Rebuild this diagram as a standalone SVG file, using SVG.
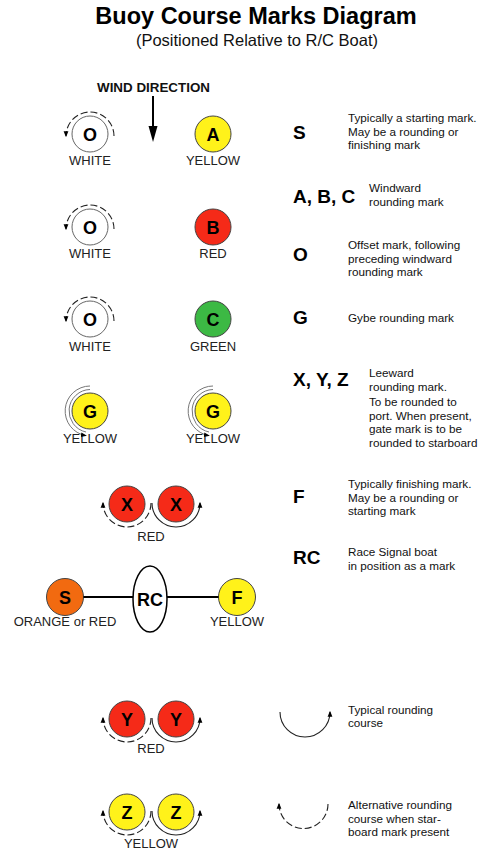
<svg xmlns="http://www.w3.org/2000/svg" width="480" height="851" viewBox="0 0 480 851">
<style>
text{font-family:"Liberation Sans",Arial,sans-serif;}
.title{font-size:23.5px;font-weight:bold;fill:#000;text-anchor:middle;}
.sub{font-size:16.5px;fill:#111;text-anchor:middle;}
.wind{font-size:12.5px;font-weight:bold;fill:#111;}
.lbl{font-size:13px;fill:#222;text-anchor:middle;}
.ml{font-size:18px;font-weight:bold;fill:#000;text-anchor:middle;}
.key{font-size:19px;font-weight:bold;fill:#000;}
.desc{font-size:11.7px;fill:#111;}
.buoy{stroke:#444;stroke-width:1;}
.white{fill:#fff;stroke:#666;}
.yellow{fill:#fff21a;}
.red{fill:#f52a18;}
.green{fill:#3cb944;}
.orange{fill:#f26a10;}
.arc{fill:none;stroke:#222;stroke-width:1.1;}
.dash{stroke-dasharray:7 3;}
.garc{fill:none;stroke:#777;stroke-width:1;}
.line{stroke:#000;stroke-width:2;}
</style>
<defs>
<marker id="ah" viewBox="0 0 10 10" refX="8" refY="5" markerWidth="6" markerHeight="6" markerUnits="userSpaceOnUse" orient="auto">
<path d="M0,1 L10,5 L0,9 z" fill="#000"/>
</marker>
</defs>

<text class="title" x="256" y="24">Buoy Course Marks Diagram</text>
<text class="sub" x="257" y="46">(Positioned Relative to R/C Boat)</text>

<g id="wind">
<text class="wind" x="97" y="92" textLength="113" lengthAdjust="spacingAndGlyphs">WIND DIRECTION</text>
<line x1="153" y1="96" x2="153" y2="128" stroke="#000" stroke-width="2"/>
<polygon points="148.5,126 157.5,126 153,142" fill="#000"/>
</g>

<g id="o1">
<circle class="buoy white" cx="90" cy="134" r="18"/>
<text class="ml" x="90" y="140.5">O</text>
<text class="lbl" x="90" y="165">WHITE</text>
</g>
<g id="a">
<circle class="buoy yellow" cx="213" cy="134" r="18"/>
<text class="ml" x="213" y="140.5">A</text>
<text class="lbl" x="213" y="165">YELLOW</text>
</g>

<g id="o2">
<circle class="buoy white" cx="90" cy="227" r="18"/>
<text class="ml" x="90" y="233.5">O</text>
<text class="lbl" x="90" y="258">WHITE</text>
</g>
<g id="b">
<circle class="buoy red" cx="213" cy="227" r="18"/>
<text class="ml" x="213" y="233.5">B</text>
<text class="lbl" x="213" y="258">RED</text>
</g>

<g id="o3">
<circle class="buoy white" cx="90" cy="319" r="18"/>
<text class="ml" x="90" y="325.5">O</text>
<text class="lbl" x="90" y="351">WHITE</text>
</g>
<g id="c">
<circle class="buoy green" cx="213" cy="319" r="18"/>
<text class="ml" x="213" y="325.5">C</text>
<text class="lbl" x="213" y="351">GREEN</text>
</g>

<g id="g1">
<circle class="buoy yellow" cx="90" cy="411" r="18"/>
<text class="ml" x="90" y="417.5">G</text>
<text class="lbl" x="90" y="443">YELLOW</text>
</g>
<g id="g2">
<circle class="buoy yellow" cx="213" cy="411" r="18"/>
<text class="ml" x="213" y="417.5">G</text>
<text class="lbl" x="213" y="443">YELLOW</text>
</g>

<g id="x">
<circle class="buoy red" cx="127" cy="504" r="18"/>
<circle class="buoy red" cx="176" cy="504" r="18"/>
<text class="ml" x="127" y="510.5">X</text>
<text class="ml" x="176" y="510.5">X</text>
<text class="lbl" x="151" y="541">RED</text>
</g>

<g id="s">
<circle class="buoy orange" cx="65" cy="597" r="18.5"/>
<text class="ml" x="65" y="603.5">S</text>
<text class="lbl" x="65" y="626">ORANGE or RED</text>
</g>
<g id="rc">
<ellipse cx="150" cy="599" rx="17" ry="33" fill="#fff" stroke="#000" stroke-width="1.5"/>
<text class="ml" x="150" y="605.5">RC</text>
</g>
<g id="f">
<circle class="buoy yellow" cx="237" cy="597" r="18.5"/>
<text class="ml" x="237" y="603.5">F</text>
<text class="lbl" x="237" y="626">YELLOW</text>
</g>

<g id="y">
<circle class="buoy red" cx="127" cy="719" r="18"/>
<circle class="buoy red" cx="176" cy="719" r="18"/>
<text class="ml" x="127" y="725.5">Y</text>
<text class="ml" x="176" y="725.5">Y</text>
<text class="lbl" x="151" y="753">RED</text>
</g>

<g id="z">
<circle class="buoy yellow" cx="127" cy="812" r="18"/>
<circle class="buoy yellow" cx="176" cy="812" r="18"/>
<text class="ml" x="127" y="818.5">Z</text>
<text class="ml" x="176" y="818.5">Z</text>
<text class="lbl" x="151" y="848">YELLOW</text>
</g>

<g id="connectors">
<line class="line" x1="83.5" y1="597" x2="133" y2="597"/>
<line class="line" x1="167" y1="597" x2="218.5" y2="597"/>
<!-- O rounding arcs -->
<path class="arc dash" d="M114,136 A24,24 0 1 0 66,136" marker-end="url(#ah)"/>
<path class="arc dash" d="M114,229 A24,24 0 1 0 66,229" marker-end="url(#ah)"/>
<path class="arc dash" d="M114,321 A24,24 0 1 0 66,321" marker-end="url(#ah)"/>
<!-- G arcs -->
<path class="garc" d="M90,386 A25,25 0 0 0 85.7,435.6" marker-end="url(#ah)"/>
<path class="garc" d="M90,389.5 A21.5,21.5 0 0 0 86,432"/>
<path class="garc" d="M213,386 A25,25 0 0 0 208.7,435.6" marker-end="url(#ah)"/>
<path class="garc" d="M213,389.5 A21.5,21.5 0 0 0 209,432"/>
<!-- X arcs -->
<path class="arc dash" d="M151,503 A24,24 0 0 1 103,503" marker-end="url(#ah)"/>
<path class="arc" d="M152,503 A24,24 0 0 0 200,503" marker-end="url(#ah)"/>
<!-- Y arcs -->
<path class="arc dash" d="M151,718 A24,24 0 0 1 103,718" marker-end="url(#ah)"/>
<path class="arc" d="M152,718 A24,24 0 0 0 200,718" marker-end="url(#ah)"/>
<!-- Z arcs -->
<path class="arc dash" d="M151,811 A24,24 0 0 1 103,811" marker-end="url(#ah)"/>
<path class="arc" d="M152,811 A24,24 0 0 0 200,811" marker-end="url(#ah)"/>
<!-- legend arcs -->
<path class="arc" d="M280,712 A25,25 0 0 0 330,712" marker-end="url(#ah)"/>
<path class="arc dash" d="M328,804 A24.5,24.5 0 0 1 279,804" marker-end="url(#ah)"/>
</g>

<g id="key-s">
<text class="key" x="293" y="139">S</text>
<text class="desc"><tspan x="348" y="122">Typically a starting mark.</tspan><tspan x="348" y="135.5">May be a rounding or</tspan><tspan x="348" y="149">finishing mark</tspan></text>
</g>
<g id="key-abc">
<text class="key" x="293" y="203">A, B, C</text>
<text class="desc"><tspan x="369" y="192">Windward</tspan><tspan x="369" y="206">rounding mark</tspan></text>
</g>
<g id="key-o">
<text class="key" x="293" y="261">O</text>
<text class="desc"><tspan x="348" y="249">Offset mark, following</tspan><tspan x="348" y="262.5">preceding windward</tspan><tspan x="348" y="276">rounding mark</tspan></text>
</g>
<g id="key-g">
<text class="key" x="293" y="324">G</text>
<text class="desc" x="348" y="322">Gybe rounding mark</text>
</g>
<g id="key-xyz">
<text class="key" x="293" y="386">X, Y, Z</text>
<text class="desc"><tspan x="369" y="377">Leeward</tspan><tspan x="369" y="391">rounding mark.</tspan><tspan x="369" y="405.5">To be rounded to</tspan><tspan x="369" y="419.5">port. When present,</tspan><tspan x="369" y="433">gate mark is to be</tspan><tspan x="369" y="446.5">rounded to starboard</tspan></text>
</g>
<g id="key-f">
<text class="key" x="293" y="503">F</text>
<text class="desc"><tspan x="348" y="488">Typically finishing mark.</tspan><tspan x="348" y="501.5">May be a rounding or</tspan><tspan x="348" y="515">starting mark</tspan></text>
</g>
<g id="key-rc">
<text class="key" x="293" y="564">RC</text>
<text class="desc"><tspan x="348" y="556">Race Signal boat</tspan><tspan x="348" y="570">in position as a mark</tspan></text>
</g>
<g id="legend-typical">
<text class="desc"><tspan x="348" y="714">Typical rounding</tspan><tspan x="348" y="727">course</tspan></text>
</g>
<g id="legend-alt">
<text class="desc"><tspan x="348" y="809">Alternative rounding</tspan><tspan x="348" y="822.5">course when star-</tspan><tspan x="348" y="836">board mark present</tspan></text>
</g>
</svg>
